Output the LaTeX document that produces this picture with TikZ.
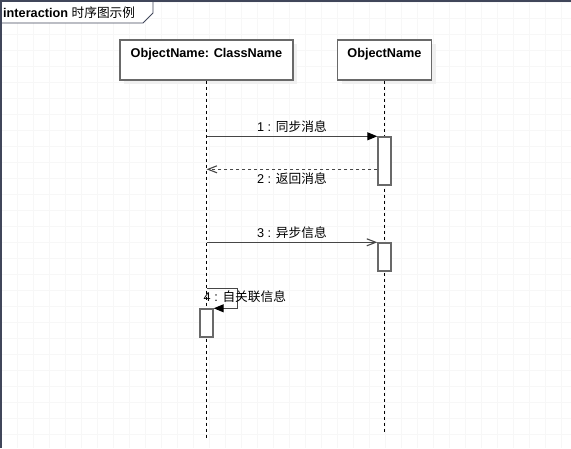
\documentclass[tikz,border=0pt]{standalone}
\usepackage{fontspec}
\setmainfont{Liberation Sans}
\newfontfamily\cjk{Noto Sans CJK SC}
\usetikzlibrary{arrows.meta,positioning,shadows}
\definecolor{framecol}{RGB}{64,70,90}
\definecolor{boxcol}{RGB}{105,105,105}
\definecolor{msgcol}{RGB}{70,70,70}
\begin{document}
\begin{tikzpicture}[
        x=1pt, y=-1pt,
        every node/.style={font=\fontsize{12.7}{15}\selectfont},
        objbox/.style={draw=boxcol, line width=1.4pt, fill=white, minimum height=40pt, inner sep=0pt,
            drop shadow={shadow xshift=4pt, shadow yshift=-4pt, fill=gray!12, opacity=1}},
        objname/.style={font=\bfseries\fontsize{12.7}{15}\selectfont, inner sep=0pt},
        lifeline/.style={dash pattern=on 3pt off 3pt, line width=0.9pt},
        actbox/.style={draw=boxcol, line width=1.4pt, fill=white, minimum width=13pt, inner sep=0pt},
        sync/.style={draw=msgcol, line width=1.1pt, -{Triangle[length=10pt,width=8pt,color=black]}},
        async/.style={draw=msgcol, line width=1.1pt, -{Straight Barb[length=9pt,width=7pt]}},
        reply/.style={async, dash pattern=on 3pt off 3pt},
        msg/.style={inner sep=3pt}
    ]
    \useasboundingbox (0,0) rectangle (571,448);
    \begin{scope}[y=1pt, shift={(1,-2)}]
        \draw[gray!6, line width=0.4pt] (-1,-446) grid[step=16] (570,2);
    \end{scope}

    % frame and title
    \draw[framecol, fill=white, line width=0.8pt] (0,0) -- (153,0) -- (153,13) -- (143,23) -- (0,23);
    \draw[framecol, line width=2pt] (1,448) -- (1,1) -- (571,1);
    \node[anchor=base west, inner sep=0pt] (title) at (3,17) {\textbf{interaction} {\cjk 时序图示例}};

    % objects
    \node[objbox, minimum width=173pt] (obj1) at (206.5,60) {};
    \node[objname, below=9pt of obj1.north] (name1) {ObjectName: ClassName};
    \node[objbox, minimum width=94pt] (obj2) at (384.5,60) {};
    \node[objname, below=9pt of obj2.north] (name2) {ObjectName};

    \draw[lifeline] (obj1.south) -- ++(0,357);
    \draw[lifeline] (obj2.south) -- ++(0,353);

    % activations
    \node[actbox, minimum height=48pt] (act1) at (384.5,161) {};
    \node[actbox, minimum height=28pt] (act2) at (384.5,257) {};
    \node[actbox, minimum height=28pt] (act3) at (206.5,323) {};

    % messages
    \draw[sync] (obj1.south |- act1.north) -- (act1.north west)
        node[msg, midway, above] (m1) {1 : {\cjk 同步消息}};
    \coordinate[below=33pt of act1.north west] (ret2);
    \draw[reply] (ret2) -- (obj1.south |- ret2)
        node[msg, midway, below] (m2) {2 : {\cjk 返回消息}};
    \draw[async] (obj1.south |- act2.north) -- (act2.north west)
        node[msg, midway, above] (m3) {3 : {\cjk 异步信息}};
    \coordinate[above=20pt of act3.north] (self4);
    \draw[sync] (self4) -| ([xshift=24pt]act3.north east) -- (act3.north east);
    \node[msg, anchor=west, inner sep=0pt] (m4) at ([xshift=-3pt,yshift=-8pt]self4) {4 : {\cjk 自关联信息}};
\end{tikzpicture}
\end{document}
